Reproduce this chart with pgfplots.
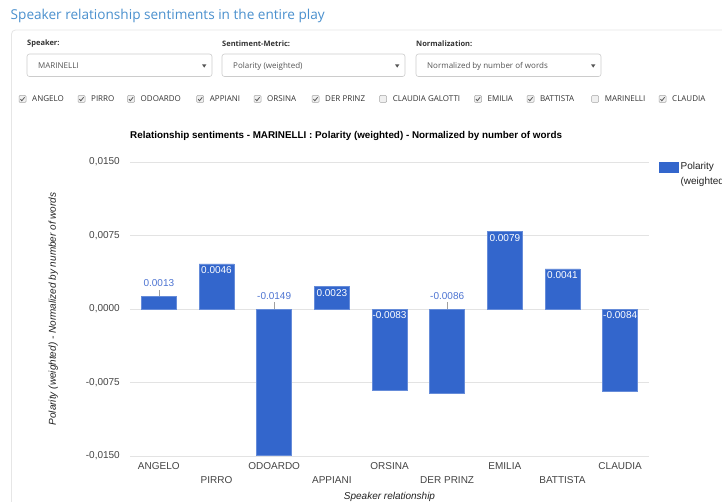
\documentclass[border=0pt]{standalone}
\usepackage{pgfplots}
\pgfplotsset{compat=1.18}
\usepackage{fontspec}
\setmainfont{Liberation Sans}
\newfontfamily\uifont{Open Sans}

\definecolor{bar}{HTML}{3366CC}
\definecolor{headblue}{HTML}{4A90CE}
\definecolor{panel}{HTML}{E6E6E6}
\definecolor{boxline}{HTML}{CCCCCC}
\definecolor{uitext}{HTML}{555555}
\definecolor{uilabel}{HTML}{333333}
\definecolor{gridc}{HTML}{E3E3E3}
\definecolor{zeroc}{HTML}{9E9E9E}
\definecolor{tick}{HTML}{444444}
\definecolor{lab}{HTML}{222222}
\definecolor{outlab}{HTML}{4D74D2}
\definecolor{leader}{HTML}{A0A0A0}

% checkbox: centre x, label, checked (1/0)
\newcommand\cb[3]{%
  \draw[rounded corners=1pt, draw=black!35, fill=black!6, line width=0.5pt] (#1-3.5,95.5) rectangle (#1+3.5,102.5);
  \ifnum#3=1 \draw[line width=0.8pt, black!65] (#1-2,99.2) -- (#1-0.7,100.8) -- (#1+2.1,97.3);\fi
  \node[anchor=west, inner sep=0pt, font=\uifont\fontsize{8}{9.6}\selectfont, text=uilabel] at (#1+9.5,99) {#2};
}
% select box: left, right, label above, selected text
\newcommand\dropdown[4]{%
  \node[anchor=west, inner sep=0pt, font=\uifont\bfseries\fontsize{7.5}{9}\selectfont, text=uilabel] at (#1,44) {#3};
  \draw[rounded corners=2.5pt, draw=boxline, line width=0.6pt] (#1,54) rectangle (#2,76.5);
  \node[anchor=west, inner sep=0pt, font=\uifont\fontsize{8}{9.6}\selectfont, text=uitext] at (#1+11,66) {#4};
  \fill[uitext] (#2-10,64.3) -- (#2-5.6,64.3) -- (#2-7.8,67.6) -- cycle;
}

\begin{document}
\begin{tikzpicture}
\path[use as bounding box] (0pt,0pt) rectangle (722pt,-502pt);
\clip (0pt,0pt) rectangle (722pt,-502pt);
\fill[white] (0pt,0pt) rectangle (722pt,-502pt);

\begin{scope}[x=1pt,y=-1pt]
  \node[anchor=west, inner sep=0pt, text=headblue, font=\uifont\fontsize{13.6}{16}\selectfont] at (10.5,15.5) {Speaker relationship sentiments in the entire play};
  \draw[panel, rounded corners=4pt, line width=0.8pt] (11.5,30) rectangle (780,560);
  \dropdown{27}{212}{Speaker:}{MARINELLI}
  \dropdown{222}{405}{Sentiment-Metric:}{Polarity (weighted)}
  \dropdown{416}{601}{Normalization:}{Normalized by number of words}
  \cb{22.5}{ANGELO}{1}
  \cb{81.5}{PIRRO}{1}
  \cb{131}{ODOARDO}{1}
  \cb{200.2}{APPIANI}{1}
  \cb{257.5}{ORSINA}{1}
  \cb{315.5}{DER PRINZ}{1}
  \cb{383.1}{CLAUDIA GALOTTI}{0}
  \cb{478}{EMILIA}{1}
  \cb{530.5}{BATTISTA}{1}
  \cb{595.1}{MARINELLI}{0}
  \cb{662.5}{CLAUDIA}{1}
\end{scope}

\begin{axis}[
  at={(130pt,-456pt)}, anchor=south west,
  scale only axis, width=519pt, height=294pt,
  xmin=-0.5, xmax=8.5, ymin=-0.015, ymax=0.015,
  clip=false,
  axis line style={draw=none},
  major tick length=0pt,
  xtick={0,...,8},
  xticklabels={{\strut ANGELO},{\strut\\PIRRO},{\strut ODOARDO},{\strut\\APPIANI},{\strut ORSINA},{\strut\\DER PRINZ},{\strut EMILIA},{\strut\\BATTISTA},{\strut CLAUDIA}},
  xticklabel style={align=center, anchor=north, inner sep=0pt, yshift=-3.8pt, font=\fontsize{10}{13.8}\selectfont, text=tick},
  ytick={-0.015,-0.0075,0,0.0075,0.015},
  scaled y ticks=false,
  yticklabel style={/pgf/number format/.cd, fixed, fixed zerofill, precision=4, use comma, assume math mode=true, /tikz/.cd, anchor=east, inner sep=0pt, xshift=-10pt, font=\fontsize{10}{12}\selectfont, text=tick},
  ymajorgrids,
  major grid style={gridc, line width=0.8pt},
  extra y ticks={0},
  extra y tick labels={},
  extra y tick style={grid style={zeroc, line width=1pt}},
  title={Relationship sentiments - MARINELLI : Polarity (weighted) - Normalized by number of words},
  title style={at={(axis description cs:0,1.069)}, anchor=west, inner sep=0pt, font=\bfseries\fontsize{9.85}{12}\selectfont, text=black},
  xlabel={Speaker relationship},
  xlabel style={at={(axis description cs:0.5,-0.1395)}, anchor=center, inner sep=0pt, font=\itshape\fontsize{10}{12}\selectfont, text=lab},
  ylabel={Polarity (weighted) - Normalized by number of words},
  ylabel style={at={(axis description cs:-0.148,0.5)}, anchor=center, inner sep=0pt, font=\itshape\fontsize{10}{12}\selectfont, text=lab},
  legend style={at={(axis description cs:1.0193,1.005)}, anchor=north west, draw=none, fill=none, inner sep=0pt, font=\fontsize{10}{15}\selectfont, text=lab, cells={anchor=west, align=left}},
]
% bars
\addplot[ybar, bar width=35pt, bar shift=0pt, fill=bar, draw=bar!75!white, line width=0.4pt,
  legend image code/.code={\fill[bar] (0pt,2.3pt) rectangle (19pt,12.3pt);}]
  coordinates {(0,0.0013) (1,0.0046) (2,-0.0149) (3,0.0023) (4,-0.0083) (5,-0.0086) (6,0.0079) (7,0.0041) (8,-0.0084)};
\addlegendentry{Polarity\\(weighted)}

% values written inside the bars
\addplot[draw=none, forget plot, nodes near coords, point meta=explicit symbolic,
  nodes near coords style={anchor=north, inner sep=0pt, yshift=-2.8pt, text=white, font=\fontsize{10}{12}\selectfont}]
  coordinates {(1,0.0046)[0.0046] (3,0.0023)[0.0023] (4,0)[-0.0083] (6,0.0079)[0.0079] (7,0.0041)[0.0041] (8,0)[-0.0084]};

% values written above the bars, with a short leader
\addplot[draw=none, forget plot, point meta=explicit symbolic,
  nodes near coords={\pgfplotspointmeta\\[-2.5pt]{\color{leader}\rule{0.6pt}{6.5pt}}},
  nodes near coords style={anchor=south, align=center, inner sep=0pt, text=outlab, font=\fontsize{10}{12}\selectfont}]
  coordinates {(0,0.0013)[0.0013] (2,0)[-0.0149] (5,0)[-0.0086]};
\end{axis}
\end{tikzpicture}
\end{document}
